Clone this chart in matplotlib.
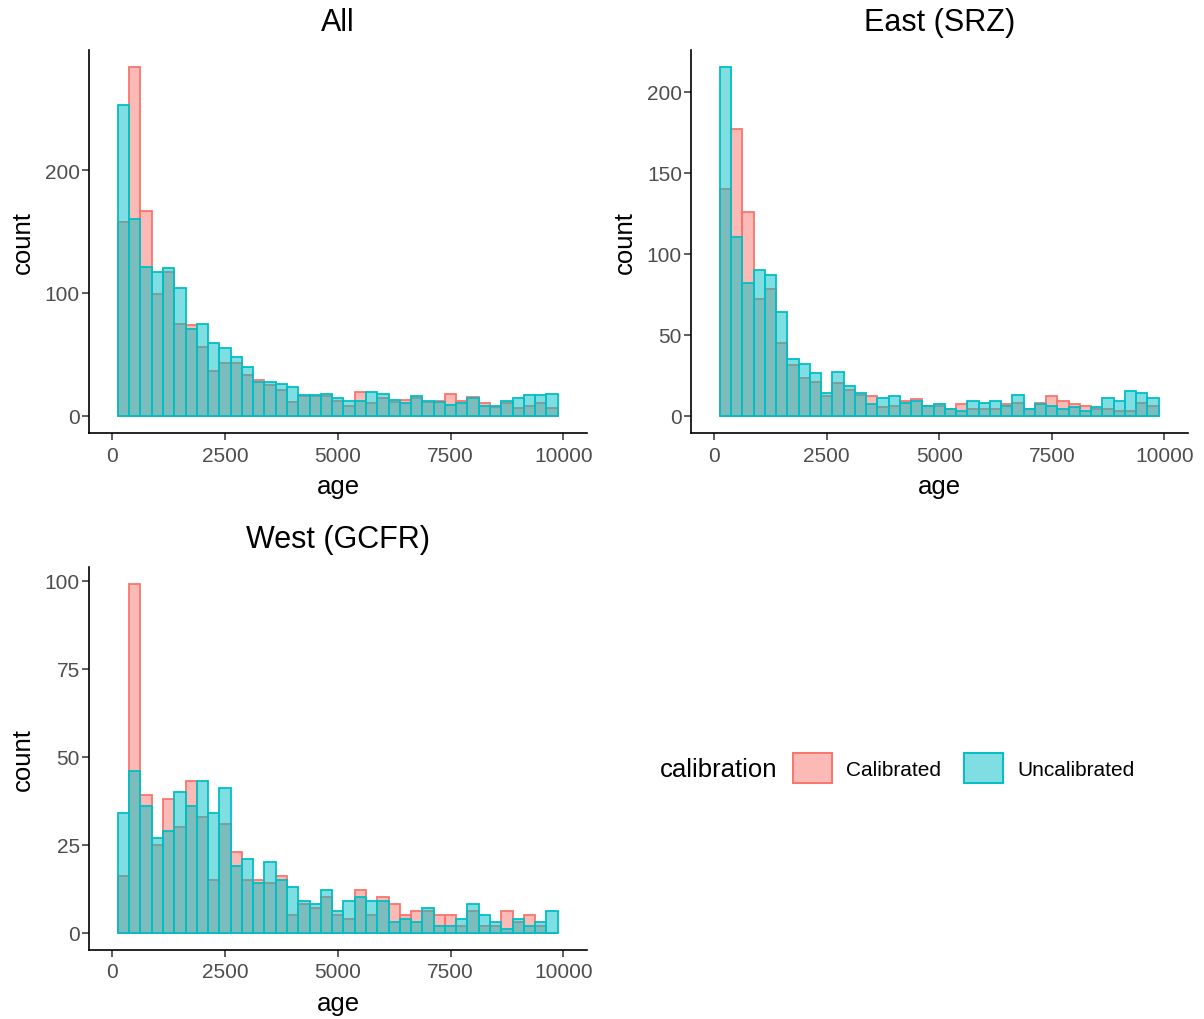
import matplotlib
matplotlib.use('Agg')
import matplotlib.pyplot as plt
import numpy as np
from matplotlib.patches import Patch

plt.rcParams['font.family'] = ['Liberation Sans', 'DejaVu Sans']

# histogram bins: width 250, centres 250 ... 9750
bin_width = 250
bin_centres = np.arange(250, 10000, bin_width)

all_cal = [158, 284, 167, 99, 117, 75, 74, 56, 36, 43, 43, 33, 29, 25, 21, 11, 16, 16, 16, 12,
           8, 19, 10, 14, 11, 13, 14, 11, 12, 18, 12, 15, 10, 7, 10, 6, 8, 10, 6]
all_uncal = [253, 160, 121, 117, 120, 104, 71, 75, 59, 55, 48, 40, 27, 27, 26, 23, 17, 17, 18, 14,
             12, 12, 19, 18, 13, 10, 16, 12, 11, 9, 10, 14, 8, 8, 12, 14, 17, 17, 18]

east_cal = [140, 177, 126, 72, 78, 45, 31, 23, 21, 12, 20, 16, 13, 12, 5, 6, 9, 10, 6, 6,
            4, 7, 4, 4, 4, 7, 8, 4, 8, 12, 9, 7, 6, 4, 4, 3, 3, 8, 6]
east_uncal = [215, 110, 82, 90, 87, 64, 35, 32, 26, 14, 27, 18, 14, 7, 11, 12, 8, 9, 6, 7,
              4, 3, 9, 8, 9, 6, 13, 4, 7, 6, 4, 5, 3, 5, 11, 9, 15, 14, 11]

west_cal = [16, 99, 39, 25, 38, 30, 43, 33, 15, 31, 23, 15, 15, 14, 16, 5, 8, 7, 10, 5,
            4, 12, 5, 10, 8, 5, 6, 6, 5, 5, 2, 6, 2, 2, 6, 3, 5, 2, 0]
west_uncal = [34, 46, 36, 27, 29, 40, 36, 43, 34, 41, 19, 21, 14, 20, 15, 13, 9, 8, 12, 6,
              9, 10, 9, 9, 3, 4, 3, 7, 2, 2, 4, 8, 5, 3, 1, 4, 2, 3, 6]

panel_titles = ['All', 'East (SRZ)', 'West (GCFR)']
x_ticks = [0, 2500, 5000, 7500, 10000]
y_ticks = [[0, 100, 200], [0, 50, 100, 150, 200], [0, 25, 50, 75, 100]]
groups = ['Calibrated', 'Uncalibrated']
colors = ['#F8766D', '#00BFC4']

W, H = 1204, 1020
fig = plt.figure(figsize=(W / 100, H / 100), dpi=100)

def frac(x0, y0, x1, y1):
    return [x0 / W, 1 - y1 / H, (x1 - x0) / W, (y1 - y0) / H]

axes = [fig.add_axes(frac(89, 51, 587, 434)),
        fig.add_axes(frac(691, 51, 1188, 434)),
        fig.add_axes(frac(89, 568, 587, 951))]

data = [(all_cal, all_uncal), (east_cal, east_uncal), (west_cal, west_uncal)]

for ax, title, (cal, uncal), yt in zip(axes, panel_titles, data, y_ticks):
    for vals, c in zip((cal, uncal), colors):
        ax.bar(bin_centres, vals, width=bin_width, facecolor=matplotlib.colors.to_rgba(c, 0.5),
               edgecolor=c, linewidth=1.3)
    top = max(max(cal), max(uncal))
    ax.set_ylim(-0.05 * top, 1.05 * top)
    ax.set_xlim(-515, 10525)
    ax.set_xticks(x_ticks)
    ax.set_yticks(yt)
    ax.set_title(title, fontsize=22, pad=14.5)
    ax.set_xlabel('age', fontsize=18.5, labelpad=6.5)
    ax.set_ylabel('count', fontsize=18.5, labelpad=7.5)
    for s in ['top', 'right']:
        ax.spines[s].set_visible(False)
    for s in ['left', 'bottom']:
        ax.spines[s].set_linewidth(1.2)
        ax.spines[s].set_color('black')
    ax.tick_params(axis='both', length=5, width=1.1, color='#333333', labelcolor='#4D4D4D',
                   labelsize=15)
    ax.tick_params(axis='x', pad=4)
    ax.tick_params(axis='y', pad=1.5)

fig.text(660 / W, 1 - 770 / H, 'calibration', fontsize=18.5, va='center', ha='left')
handles = [Patch(facecolor=matplotlib.colors.to_rgba(c, 0.5), edgecolor=c, linewidth=1.4)
           for c in colors]
fig.legend(handles, groups, loc='center left', bbox_to_anchor=(793 / W, 1 - 769 / H),
           ncol=2, frameon=False, fontsize=15, handlelength=1.85, handleheight=1.85,
           handletextpad=0.7, columnspacing=1.1, borderpad=0, borderaxespad=0)

fig.savefig('out.png', dpi=100)
